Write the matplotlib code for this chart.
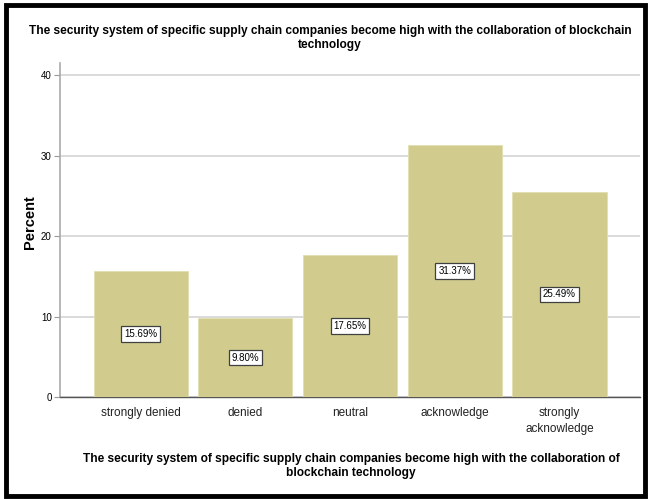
import matplotlib.pyplot as plt
from matplotlib.patches import Rectangle

plt.rcParams['font.family'] = ['Liberation Sans', 'DejaVu Sans']

categories = ["strongly denied", "denied", "neutral", "acknowledge", "strongly\nacknowledge"]
percents = [15.69, 9.80, 17.65, 31.37, 25.49]
yticks = [0, 10, 20, 30, 40]
title = ("The security system of specific supply chain companies become high with the collaboration of blockchain\n"
         "technology")
xlabel = ("The security system of specific supply chain companies become high with the collaboration of\n"
          "blockchain technology")

fig = plt.figure(figsize=(6.48, 4.99), dpi=100)
ax = fig.add_axes([0.0926, 0.2044, 0.8951, 0.6693])

x = range(len(categories))
ax.bar(x, percents, width=0.9, color="#D1CC8E", edgecolor="#E2DEB2", linewidth=0.6, zorder=3)

for i, v in enumerate(percents):
    ax.text(i, v / 2, f"{v:.2f}%", ha="center", va="center", fontsize=7, zorder=4,
            bbox=dict(boxstyle="square,pad=0.3", facecolor="white", edgecolor="#404040", linewidth=0.9))

ax.set_xlim(-0.77, 4.77)
ax.set_ylim(0, 41.5)
ax.set_yticks(yticks)
ax.set_yticklabels([str(t) for t in yticks], fontsize=7)
ax.set_xticks(list(x))
ax.set_xticklabels(categories, fontsize=8.5, color="#222222", linespacing=1.45)
ax.tick_params(axis="x", length=0, pad=7)
ax.tick_params(axis="y", length=4, width=0.8, color="#999999", pad=2)
ax.grid(axis="y", color="#D4D4D4", linewidth=1.2, zorder=0)

for side in ["top", "right"]:
    ax.spines[side].set_visible(False)
ax.spines["left"].set_color("#AAAAAA")
ax.spines["left"].set_linewidth(1.2)
ax.spines["bottom"].set_color("#555555")
ax.spines["bottom"].set_linewidth(1.0)

ax.set_ylabel("Percent", fontsize=10.5, fontweight="bold")
ax.yaxis.set_label_coords(-0.04, 0.525)
fig.text(0.509, 0.924, title, ha="center", va="center", fontsize=8.6, fontweight="bold", linespacing=1.3)
fig.text(0.542, 0.066, xlabel, ha="center", va="center", fontsize=8.6, fontweight="bold", linespacing=1.25)

# thick frame round the whole figure
fig.patches.append(Rectangle((0.009, 0.006), 0.986, 0.984, transform=fig.transFigure,
                             fill=False, edgecolor="black", linewidth=3.5))

fig.savefig("out.png", dpi=100)
